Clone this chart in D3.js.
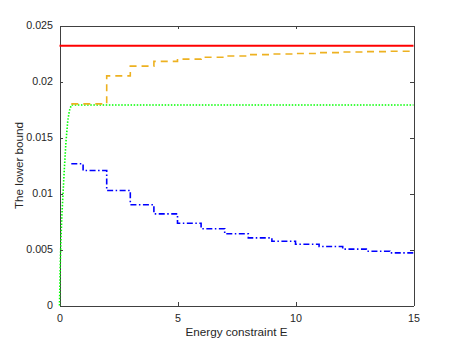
<!DOCTYPE html>
<html>
<head>
<meta charset="utf-8">
<script src="https://cdn.jsdelivr.net/npm/d3@7"></script>
<style>
  body { margin: 0; background: #fff; }
  text { font-family: "Liberation Sans", Arial, sans-serif; fill: #262626; }
  .axis path, .axis line { stroke: #404040; shape-rendering: crispEdges; }
</style>
</head>
<body>
<div id="chart"></div>
<script>
//Tick values
var xTicks = [0, 5, 10, 15];
var yTicks = [0, 0.005, 0.01, 0.015, 0.02, 0.025];

//Red solid - constant bound
var redE = [0, 15];
var redV = [0.0232, 0.0232];

//Orange dashed - step per energy interval
var orangeEdges = [0.5, 2, 3, 4, 5, 6, 7, 8, 9, 10, 11, 12, 13, 14, 15];
var orangeLevels = [0.0180, 0.0205, 0.02137, 0.0218, 0.0220, 0.02217, 0.02228, 0.0224, 0.02245, 0.0225, 0.02258, 0.02263, 0.02267, 0.0227];

//Green dotted - steep rise then flat
var greenE = [0, 0.03, 0.06, 0.1, 0.15, 0.2, 0.27, 0.35, 0.42, 0.5, 15];
var greenV = [0, 0.0035, 0.0058, 0.0080, 0.0100, 0.0120, 0.0145, 0.0165, 0.0174, 0.0179, 0.0179];

//Blue dash-dot - decreasing steps
var blueEdges = [0.5, 1, 2, 3, 4, 5, 6, 7, 8, 9, 10, 11, 12, 13, 14, 15];
var blueLevels = [0.01265, 0.01205, 0.01027, 0.0090, 0.00818, 0.00734, 0.00685, 0.0064, 0.00604, 0.00574, 0.00547, 0.00527, 0.00503, 0.00485, 0.0047];

drawChart();

function drawChart() {

	var width = 457, height = 343;
	var pLeft = 59.5, pRight = 413.5, pTop = 25.5, pBottom = 305.5;

	var svg = d3.select("#chart").append("svg")
		.attr("width", width)
		.attr("height", height);

	var x = d3.scaleLinear().domain([0, 15]).range([pLeft, pRight]);
	var y = d3.scaleLinear().domain([0, 0.025]).range([pBottom, pTop]);

	function steps(edges, levels) {
		return edges.map(function(e, i) { return [e, levels[Math.min(i, levels.length - 1)]]; });
	}
	function pairs(a, b) {
		return a.map(function(e, i) { return [e, b[i]]; });
	}

	var line = d3.line().x(function(d) { return x(d[0]); }).y(function(d) { return y(d[1]); });
	var stepLine = d3.line().curve(d3.curveStepAfter).x(function(d) { return x(d[0]); }).y(function(d) { return y(d[1]); });

	//Axes (box with mirrored inward ticks)
	svg.append("g").attr("class", "axis")
		.attr("transform", "translate(0," + pBottom + ")")
		.call(d3.axisBottom(x).tickValues(xTicks).tickSize(-3.5).tickSizeOuter(0).tickPadding(9))
		.call(function(g) { g.selectAll("text").style("font-size", "10.7px").attr("fill", "#262626"); });

	svg.append("g").attr("class", "axis")
		.attr("transform", "translate(" + pLeft + ",0)")
		.call(d3.axisLeft(y).tickValues(yTicks).tickFormat(function(d) { return String(+d.toFixed(3)); }).tickSize(-3.5).tickSizeOuter(0).tickPadding(6.5))
		.call(function(g) { g.selectAll("text").style("font-size", "10.7px").attr("fill", "#262626"); });

	svg.append("g").attr("class", "axis")
		.attr("transform", "translate(0," + pTop + ")")
		.call(d3.axisTop(x).tickValues(xTicks).tickSize(-3.5).tickSizeOuter(0).tickFormat(""));

	svg.append("g").attr("class", "axis")
		.attr("transform", "translate(" + pRight + ",0)")
		.call(d3.axisRight(y).tickValues(yTicks).tickSize(-3.5).tickSizeOuter(0).tickFormat(""));

	//Series
	svg.append("path")
		.attr("d", line(pairs(greenE, greenV)))
		.attr("fill", "none").attr("stroke", "#00ff00").attr("stroke-width", 1.6)
		.attr("stroke-dasharray", "1.5,1.6");

	svg.append("path")
		.attr("d", stepLine(steps(orangeEdges, orangeLevels)))
		.attr("fill", "none").attr("stroke", "#edb120").attr("stroke-width", 1.6)
		.attr("stroke-dasharray", "7,5");

	svg.append("path")
		.attr("d", stepLine(steps(blueEdges, blueLevels)))
		.attr("fill", "none").attr("stroke", "#0000ff").attr("stroke-width", 1.6)
		.attr("stroke-dasharray", "6,2.5,1.5,2.5");

	svg.append("path")
		.attr("d", line(pairs(redE, redV)))
		.attr("fill", "none").attr("stroke", "#ff0000").attr("stroke-width", 2);

	//Axis labels
	svg.append("text")
		.attr("x", (pLeft + pRight) / 2)
		.attr("y", 335.5)
		.attr("text-anchor", "middle")
		.style("font-size", "11.7px")
		.text("Energy constraint E");

	svg.append("text")
		.attr("transform", "translate(22.5," + ((pTop + pBottom) / 2) + ") rotate(-90)")
		.attr("text-anchor", "middle")
		.style("font-size", "11.7px")
		.text("The lower bound");

}//drawChart
</script>
</body>
</html>
